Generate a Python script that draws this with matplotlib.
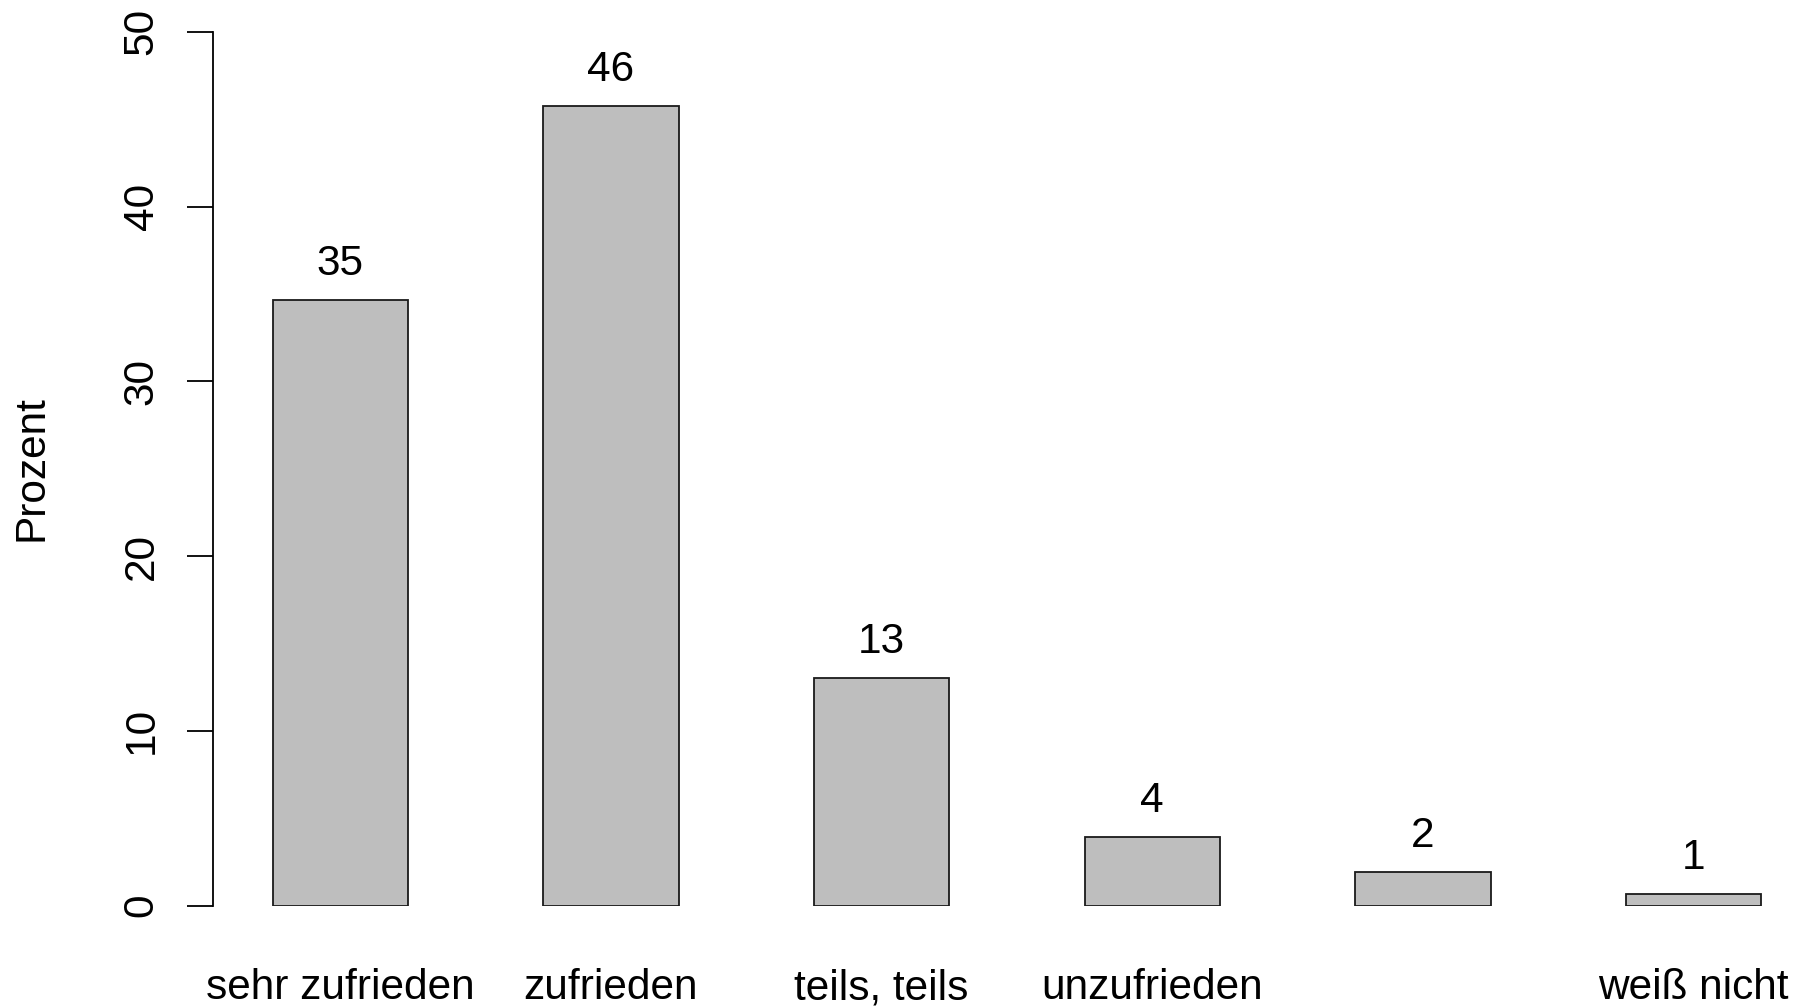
import matplotlib
matplotlib.use("Agg")
import matplotlib.pyplot as plt
import numpy as np

plt.rcParams['font.family'] = ['Liberation Sans', 'DejaVu Sans']

# Antwortkategorien und Anteile in Prozent
kategorien = ["sehr zufrieden", "zufrieden", "teils, teils", "unzufrieden",
              "sehr unzufrieden", "weiß nicht"]
achsen_labels = ["sehr zufrieden", "zufrieden", "teils, teils", "unzufrieden",
                 "", "weiß nicht"]
prozent = [34.65, 45.75, 13.05, 3.94, 1.95, 0.65]
beschriftung = ["35", "46", "13", "4", "2", "1"]

fig = plt.figure(figsize=(18.1, 10.08), dpi=100)
ax = fig.add_axes([213 / 1810, 1 - 905.7 / 1008, 1 - 213 / 1810, 874 / 1008])

x = np.arange(len(prozent)) * 2 + 1.5
ax.bar(x, prozent, width=1, color="#bebebe", edgecolor="#1a1a1a", linewidth=1.3)

for xi, p, b in zip(x, prozent, beschriftung):
    ax.annotate(b, (xi, p), xytext=(0, 18), textcoords="offset points",
                ha="center", va="baseline", fontsize=30.5)

ax.set_xlim(0.559, 12.36)
ax.set_ylim(0, 50)
for s in ["top", "right", "bottom"]:
    ax.spines[s].set_visible(False)
ax.spines["left"].set_bounds(0, 50)
ax.spines["left"].set_linewidth(1.3)

ax.set_yticks([0, 10, 20, 30, 40, 50])
ax.tick_params(axis="y", length=19, width=1.3, pad=18, labelsize=30.5)
for lab in ax.get_yticklabels():
    lab.set_rotation(90)
    lab.set_va("center")

ax.set_xticks(x)
ax.set_xticklabels(achsen_labels)
ax.tick_params(axis="x", length=0, pad=45, labelsize=30.5)

fig.text(32 / 1810, 1 - 468 / 1008, "Prozent", rotation=90, ha="center",
         va="center", fontsize=30.5)

fig.savefig("out.png", dpi=100)
